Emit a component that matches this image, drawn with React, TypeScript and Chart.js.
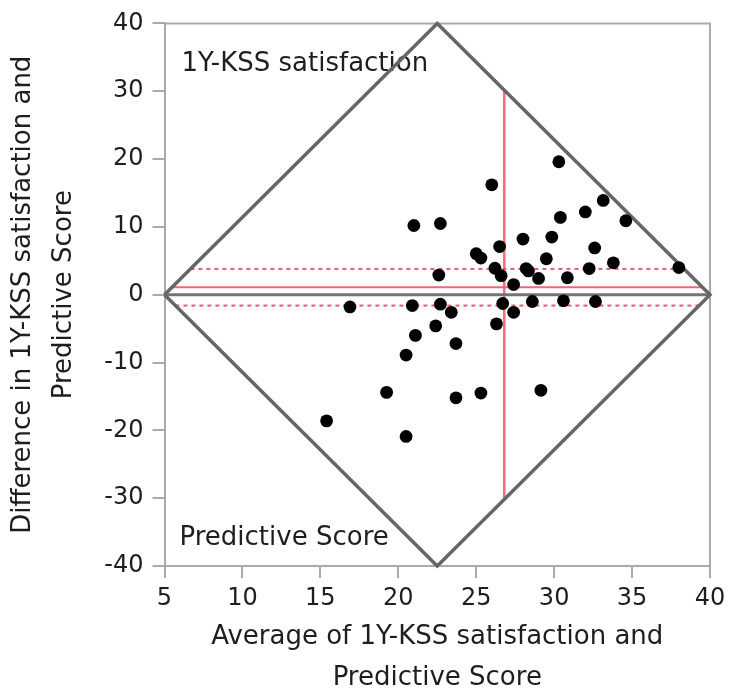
import { useEffect, useRef } from "react";
import { Chart, registerables } from "chart.js";

Chart.register(...registerables);

// ---- Data ----
const averageScores = [
  15.4, 16.9, 19.25, 20.5, 20.5, 20.9, 21.0, 21.1, 22.4, 22.6, 22.7, 22.7, 23.4, 23.7, 23.7,
  25.0, 25.3, 25.3, 26.0, 26.2, 26.3, 26.5, 26.6, 26.7, 27.4, 27.4, 28.0, 28.2, 28.35, 28.6,
  29.0, 29.15, 29.5, 29.85, 30.3, 30.4, 30.6, 30.85, 32.0, 32.25, 32.6, 32.65, 33.15, 33.8,
  34.6, 38.0,
];
const differences = [
  -18.6, -1.8, -14.4, -8.9, -20.9, -1.6, 10.2, -6.0, -4.6, 2.9, -1.4, 10.5, -2.6, -7.2, -15.2,
  6.05, 5.4, -14.5, 16.2, 3.9, -4.3, 7.1, 2.8, -1.3, 1.5, -2.6, 8.2, 3.85, 3.5, -1.0,
  2.4, -14.1, 5.3, 8.5, 19.6, 11.4, -0.9, 2.5, 12.2, 3.85, 6.9, -1.0, 13.9, 4.7,
  10.9, 4.0,
];

const meanDifference = 1.1;
const upperConfidence = 3.8;
const lowerConfidence = -1.6;
const meanAverage = 26.8;
const meanAverageRange = [-30, 30];

const xLimits = [5, 40];
const yLimits = [-40, 40];
const xTickStep = 5;
const yTickStep = 10;

const xTitle = ["Average of 1Y-KSS satisfaction and", "Predictive Score"];
const yTitle = ["Difference in 1Y-KSS satisfaction and", "Predictive Score"];
const cornerLabels = ["1Y-KSS satisfaction", "Predictive Score"];

// ---- helpers ----
const centerX = (xLimits[0] + xLimits[1]) / 2;
const halfW = (xLimits[1] - xLimits[0]) / 2;
const halfH = yLimits[1];
const diamondHalfWidthAt = (y: number) => halfW * (1 - Math.abs(y) / halfH);
const horizontalInDiamond = (y: number) => [
  { x: centerX - diamondHalfWidthAt(y), y },
  { x: centerX + diamondHalfWidthAt(y), y },
];

const FONT = "'DejaVu Sans', Verdana, sans-serif";

const framePlugin = {
  id: "frameAndLabels",
  beforeDatasetsDraw(chart: any) {
    const { ctx, chartArea } = chart;
    const { left, top, right, bottom } = chartArea;
    ctx.save();
    ctx.strokeStyle = "#aaaaaa";
    ctx.lineWidth = 2;
    ctx.beginPath();
    ctx.moveTo(left, top);
    ctx.lineTo(right, top);
    ctx.lineTo(right, bottom);
    ctx.stroke();

    ctx.fillStyle = "#1e1e1e";
    ctx.font = `26px ${FONT}`;
    ctx.textAlign = "left";
    ctx.textBaseline = "middle";
    ctx.fillText(cornerLabels[0], left + 17, top + 41);
    ctx.fillText(cornerLabels[1], left + 15, bottom - 28);
    ctx.restore();
  },
};

export default function App() {
  const canvasRef = useRef<HTMLCanvasElement | null>(null);

  useEffect(() => {
    const canvas = canvasRef.current;
    if (!canvas) return;

    const points = averageScores.map((x, i) => ({ x, y: differences[i] }));
    const diamond = [
      { x: xLimits[0], y: 0 },
      { x: centerX, y: yLimits[1] },
      { x: xLimits[1], y: 0 },
      { x: centerX, y: yLimits[0] },
      { x: xLimits[0], y: 0 },
    ];

    const lineBase = {
      showLine: true,
      pointRadius: 0,
      pointHoverRadius: 0,
      fill: false,
      tension: 0,
    };

    const chart = new Chart(canvas, {
      type: "scatter",
      data: {
        datasets: [
          {
            label: "points",
            data: points,
            backgroundColor: "#000000",
            borderWidth: 0,
            pointRadius: 6.4,
            pointHoverRadius: 6.4,
            order: 0,
          },
          {
            ...lineBase,
            label: "diamond",
            data: diamond,
            borderColor: "#666666",
            borderWidth: 3.5,
            clip: false,
            order: 1,
          } as any,
          {
            ...lineBase,
            label: "zero",
            data: [
              { x: xLimits[0], y: 0 },
              { x: xLimits[1], y: 0 },
            ],
            borderColor: "#747474",
            borderWidth: 3,
            order: 2,
          } as any,
          {
            ...lineBase,
            label: "mean difference",
            data: horizontalInDiamond(meanDifference),
            borderColor: "#ee6677",
            borderWidth: 2,
            order: 3,
          } as any,
          {
            ...lineBase,
            label: "upper",
            data: horizontalInDiamond(upperConfidence),
            borderColor: "#e35d70",
            borderWidth: 2,
            borderDash: [4, 4],
            order: 3,
          } as any,
          {
            ...lineBase,
            label: "lower",
            data: horizontalInDiamond(lowerConfidence),
            borderColor: "#e35d70",
            borderWidth: 2,
            borderDash: [4, 4],
            order: 3,
          } as any,
          {
            ...lineBase,
            label: "mean average",
            data: meanAverageRange.map((y) => ({ x: meanAverage, y })),
            borderColor: "#f27080",
            borderWidth: 2.6,
            order: 3,
          } as any,
        ],
      },
      options: {
        animation: false,
        responsive: false,
        events: [],
        layout: { padding: { top: 20, right: 25, left: 0, bottom: 0 } },
        plugins: {
          legend: { display: false },
          tooltip: { enabled: false },
        },
        scales: {
          x: {
            type: "linear",
            min: xLimits[0],
            max: xLimits[1],
            afterFit: (scale: any) => {
              scale.height = 124;
            },
            border: { display: true, color: "#aaaaaa", width: 2 },
            grid: {
              drawOnChartArea: false,
              drawTicks: true,
              tickLength: 12,
              color: "#aaaaaa",
              lineWidth: 2,
            },
            ticks: {
              stepSize: xTickStep,
              color: "#1e1e1e",
              padding: 6,
              font: { family: FONT, size: 24 },
            },
            title: {
              display: true,
              text: xTitle,
              color: "#1e1e1e",
              font: { family: FONT, size: 26, lineHeight: 41 / 26 },
              padding: { top: 0, bottom: -9 },
            },
          },
          y: {
            type: "linear",
            min: yLimits[0],
            max: yLimits[1],
            afterFit: (scale: any) => {
              scale.width = 164.5;
            },
            border: { display: true, color: "#aaaaaa", width: 2 },
            grid: {
              drawOnChartArea: false,
              drawTicks: true,
              tickLength: 12,
              color: "#aaaaaa",
              lineWidth: 2,
            },
            ticks: {
              stepSize: yTickStep,
              color: "#1e1e1e",
              padding: 9,
              font: { family: FONT, size: 24 },
            },
            title: {
              display: true,
              text: yTitle,
              color: "#1e1e1e",
              font: { family: FONT, size: 26, lineHeight: 41 / 26 },
              padding: { top: 3, bottom: 0 },
            },
          },
        },
      },
      plugins: [framePlugin],
    } as any);

    return () => {
      chart.destroy();
    };
  }, []);

  return (
    <canvas
      ref={canvasRef}
      width={735}
      height={690}
      style={{ position: "absolute", left: 0, top: 0, width: 735, height: 690, display: "block", background: "#ffffff" }}
    />
  );
}
